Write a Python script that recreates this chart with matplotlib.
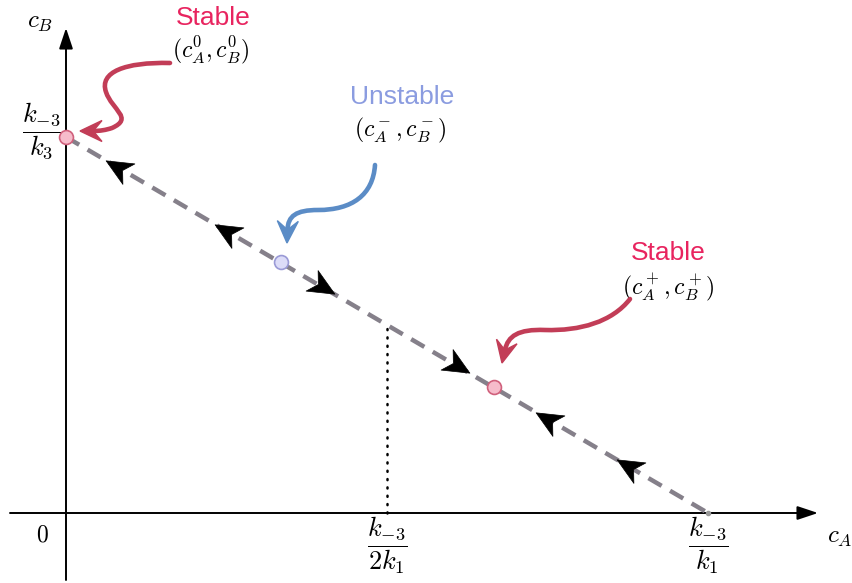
import numpy as np
import matplotlib
matplotlib.use("Agg")
import matplotlib.pyplot as plt
from matplotlib.path import Path
from matplotlib.patches import PathPatch, Polygon
from matplotlib.markers import MarkerStyle
from matplotlib.transforms import Affine2D

plt.rcParams["mathtext.fontset"] = "cm"
plt.rcParams["lines.scale_dashes"] = False

# Invariant line c_A + c_B = k_{-3}/k_3 (normalised units)
line_cA = [0.0, 1.0]
line_cB = [1.0, 0.0]

# Fixed points on the line
stable0 = (0.0, 1.0)
unstable = (0.335, 0.667)
stable_plus = (0.667, 0.335)

# Flow direction arrows along the line (+1 = towards larger c_A)
flow_cA = [0.08, 0.25, 0.40, 0.61, 0.75, 0.875]
flow_cB = [0.92, 0.75, 0.60, 0.39, 0.25, 0.125]
flow_dir = [-1, -1, 1, 1, -1, -1]

# Midpoint marker
mid_cA = 0.5
mid_cB = 0.5

fig = plt.figure(figsize=(8.53, 5.83), dpi=100)
ax = fig.add_axes([0, 0, 1, 1])
ax.set_xlim(-66 / 642, 787 / 642)
ax.set_ylim(-70 / 376, 513 / 376)
ax.axis("off")


def px(x, y):
    return ((x - 66) / 642, (513 - y) / 376)


# Coordinate axes with arrowheads
ax.annotate("", xy=(752 / 642, 0), xytext=(-56 / 642, 0),
            arrowprops=dict(arrowstyle="-|>,head_length=0.9,head_width=0.3",
                            color="black", lw=1.4, mutation_scale=14,
                            shrinkA=0, shrinkB=0))
ax.annotate("", xy=(0, 485 / 376), xytext=(0, -67 / 376),
            arrowprops=dict(arrowstyle="-|>,head_length=0.9,head_width=0.3",
                            color="black", lw=1.4, mutation_scale=14,
                            shrinkA=0, shrinkB=0))

# Dotted guide at c_A = k_{-3}/(2k_1)
ax.plot([mid_cA, mid_cA], [0, mid_cB], color="black", lw=1.8,
        linestyle=(0, (0.8, 5.2)), dash_capstyle="round", zorder=2)

# Dashed invariant line
ax.plot(line_cA, line_cB, color="#85808a", lw=3.2, dashes=(11, 7),
        dash_capstyle="butt", zorder=3)
ax.plot([line_cA[1]], [line_cB[1]], "o", color="#999999", ms=3, zorder=3)

# Flow arrowheads (stealth shape)
stealth = Path([(1, 0), (-1, 0.9), (-0.45, 0), (-1, -0.9), (1, 0)],
               [Path.MOVETO, Path.LINETO, Path.LINETO, Path.LINETO, Path.CLOSEPOLY])
ang = np.degrees(np.arctan2(-376, 642))
for x, y, d in zip(flow_cA, flow_cB, flow_dir):
    a = ang if d > 0 else ang + 180
    m = MarkerStyle(stealth, transform=Affine2D().rotate_deg(a))
    ax.plot([x], [y], marker=m, ms=19, color="black", mec="black", mew=0.5,
            linestyle="none", zorder=5)

# Fixed point markers
ax.plot(*stable0, "o", ms=10, mfc="#f6bccb", mec="#d0607c", mew=1.2, zorder=6)
ax.plot(*stable_plus, "o", ms=10, mfc="#f6bccb", mec="#d0607c", mew=1.2, zorder=6)
ax.plot(*unstable, "o", ms=10, mfc="#dcdcf8", mec="#9a9ad6", mew=1.2, zorder=6)


def curved_arrow(points, color, head_len=22, half_w=10.5):
    """Cubic-Bezier shaft ending in a notched arrowhead (pixel-space layout)."""
    pts = np.array(points, dtype=float)
    tip = pts[-1].copy()
    u = tip - pts[-2]
    u /= np.hypot(*u)
    n = np.array([-u[1], u[0]])
    notch = tip - 0.6 * head_len * u
    pts[-1] = notch
    verts = [px(*p) for p in pts]
    codes = [Path.MOVETO] + [Path.CURVE4] * (len(verts) - 1)
    ax.add_patch(PathPatch(Path(verts, codes), fill=False, edgecolor=color,
                           lw=3.3, capstyle="round", zorder=4))
    head = [tip, tip - head_len * u + half_w * n, notch,
            tip - head_len * u - half_w * n]
    ax.add_patch(Polygon([px(*p) for p in head], closed=True, facecolor=color,
                         edgecolor=color, lw=1, zorder=4))


curved_arrow([(170, 63), (125, 62), (99, 72), (106, 92),
              (112, 110), (134, 118), (112, 128),
              (106, 130), (100, 131), (80, 131)], "#c23d57")
curved_arrow([(375, 165), (373, 195), (352, 210), (318, 210),
              (296, 210), (288, 216), (287, 243)], "#5b8cc6")
curved_arrow([(630, 299), (612, 322), (580, 331), (545, 330),
              (518, 329), (508, 336), (502, 363)], "#c23d57")

# Labels
pink = "#e8245f"
lav = "#8b9ce0"
ax.text(*px(213, 18), "Stable", color=pink, fontsize=19,
        family="Liberation Sans", ha="center", va="center")
ax.text(*px(211, 50), r"$(c_A^0, c_B^0)$", fontsize=17, ha="center", va="center")
ax.text(*px(402, 97), "Unstable", color=lav, fontsize=19,
        family="Liberation Sans", ha="center", va="center")
ax.text(*px(400, 130), r"$(c_A^-, c_B^-)$", fontsize=17, ha="center", va="center")
ax.text(*px(668, 253), "Stable", color=pink, fontsize=19,
        family="Liberation Sans", ha="center", va="center")
ax.text(*px(668, 287), r"$(c_A^+, c_B^+)$", fontsize=17, ha="center", va="center")

ax.text(*px(40, 22), r"$c_B$", fontsize=18, ha="center", va="center")
ax.text(*px(840, 537), r"$c_A$", fontsize=18, ha="center", va="center")
ax.text(*px(42, 535), r"$0$", fontsize=17, ha="center", va="center")
ax.text(*px(42, 131), r"$\dfrac{k_{-3}}{k_3}$", fontsize=19, ha="center", va="center")
ax.text(*px(387, 545), r"$\dfrac{k_{-3}}{2k_1}$", fontsize=19, ha="center", va="center")
ax.text(*px(708, 545), r"$\dfrac{k_{-3}}{k_1}$", fontsize=19, ha="center", va="center")

fig.savefig("out.png", dpi=100, facecolor="white")
